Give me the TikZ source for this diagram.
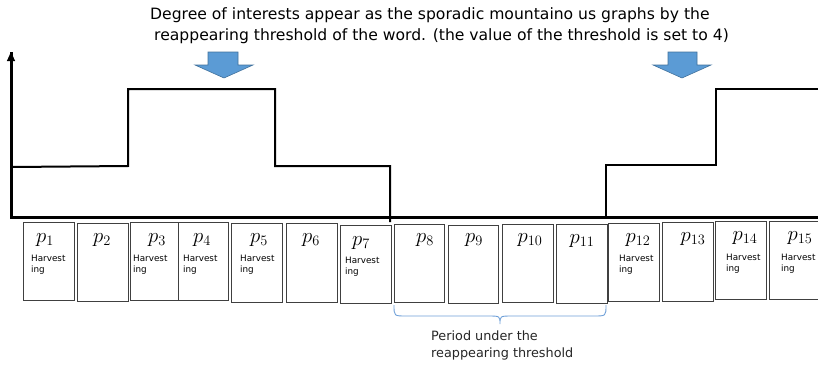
\documentclass[tikz,border=0pt]{standalone}
\usepackage[no-math]{fontspec}
\setmainfont{DejaVu Sans}
\usetikzlibrary{arrows.meta,calc}

\definecolor{arrowblue}{HTML}{5B9BD5}
\definecolor{arrowedge}{HTML}{41719C}
\definecolor{boxedge}{HTML}{404040}
\definecolor{bracecol}{HTML}{6FA0D8}

\tikzset{
  axisline/.style={line width=3pt, black},
  stepline/.style={line width=2pt, black},
  pbox/.style={draw=boxedge, line width=1pt, fill=white, inner sep=0pt},
  plabel/.style={inner sep=0pt, font=\fontsize{19.5}{19.5}\selectfont},
  harv/.style={inner sep=0pt, align=left, anchor=north west,
    font=\fontsize{8.8}{10.5}\selectfont},
  downarrow/.style={fill=arrowblue, draw=arrowedge, line width=0.6pt},
  bracestyle/.style={draw=bracecol, line width=0.9pt},
  caption/.style={inner sep=0pt, align=left, anchor=base west}
}

% one period box: name, left, top, right, bottom
\newcommand{\periodbox}[5]{%
  \node[pbox, minimum width={(#4-#2)*1pt}, minimum height={(#5-#3)*1pt}]
    (#1) at ({(#2+#4)/2},{(#3+#5)/2}) {};}

\begin{document}
\begin{tikzpicture}[x=1pt, y=-1pt]
\useasboundingbox (0,0) rectangle (818,364);

% heading (the base anchor sits on the last line)
\node[caption, font=\fontsize{15.6}{21}\selectfont] (title) at (150,40)
  {Degree of interests appear as the sporadic mountaino us graphs by the\\
   \hspace*{4pt}reappearing threshold of the word. (the value of the threshold is set to 4)};

% blue down arrows marking the peaks
\draw[downarrow] (208,52) -- (238,52) -- (238,65) -- (253,65) -- (224,78)
  -- (195,65) -- (208,65) -- cycle;
\draw[downarrow] (668,52) -- (697,52) -- (697,65) -- (711,65) -- (682,78)
  -- (653,65) -- (668,65) -- cycle;

% axes
\coordinate (origin) at (11,217);
\coordinate (ytop) at (11,52);
\coordinate (xend) at (818,217);
\draw[axisline] (xend) -- (origin) -- (ytop);
\draw[line width=1pt, -{Triangle[length=9pt, width=8pt]}] (11,70) -- (ytop);

% degree of interest as a step function
\draw[stepline] (12,167) -- (128,166) -- (128,89) -- (275,89) -- (275,166)
  -- (390,166) -- (390,222);
\draw[stepline] (606,217) -- (606,165) -- (716,165) -- (716,89) -- (818,89);

% periods
\periodbox{p1}{23}{222}{74}{300}
\periodbox{p2}{77}{223}{128}{301}
\periodbox{p3}{130}{222}{178}{300}
\periodbox{p4}{178}{222}{228}{300}
\periodbox{p5}{231}{223}{282}{302}
\periodbox{p6}{286}{223}{337}{302}
\periodbox{p7}{340}{225}{391}{303}
\periodbox{p8}{394}{224}{444}{302}
\periodbox{p9}{448}{225}{498}{303}
\periodbox{p10}{502}{224}{553}{302}
\periodbox{p11}{556}{224}{607}{303}
\periodbox{p12}{608}{223}{659}{301}
\periodbox{p13}{662}{222}{713}{301}
\periodbox{p14}{715}{221}{766}{299}
\periodbox{p15}{769}{221}{819}{299}

\node[plabel] at (45,240) {$p_{1}$};
\node[plabel] at (102,240) {$p_{2}$};
\node[plabel] at (157,240) {$p_{3}$};
\node[plabel] at (202,240) {$p_{4}$};
\node[plabel] at (259,240) {$p_{5}$};
\node[plabel] at (311,240) {$p_{6}$};
\node[plabel] at (361,243) {$p_{7}$};
\node[plabel] at (425,240) {$p_{8}$};
\node[plabel] at (474,240) {$p_{9}$};
\node[plabel] at (530,240) {$p_{10}$};
\node[plabel] at (582,241) {$p_{11}$};
\node[plabel] at (638,240) {$p_{12}$};
\node[plabel] at (693,239) {$p_{13}$};
\node[plabel] at (745,238) {$p_{14}$};
\node[plabel] at (800,238) {$p_{15}$};

\node[harv] at (31,255) {Harvest\\ing};
\node[harv] at (133,255) {Harvest\\ing};
\node[harv] at (183,255) {Harvest\\ing};
\node[harv] at (240,255) {Harvest\\ing};
\node[harv] at (345,257) {Harvest\\ing};
\node[harv] at (619,255) {Harvest\\ing};
\node[harv] at (726,254) {Harvest\\ing};
\node[harv] at (781,254) {Harvest\\ing};

% brace under the periods below the threshold
\coordinate (bl) at (394,305);
\coordinate (br) at (606,305);
\coordinate (btip) at (500,324);
\draw[bracestyle] (bl) .. controls (394,316) .. (406,316) -- (488,316)
  .. controls (500,316) .. (btip) .. controls (500,316) .. (512,316)
  -- (594,316) .. controls (606,316) .. (br);
\node[caption, font=\fontsize{12.8}{17}\selectfont, text=black!85] (period) at (431,357)
  {Period under the\\reappearing threshold};
\end{tikzpicture}
\end{document}
